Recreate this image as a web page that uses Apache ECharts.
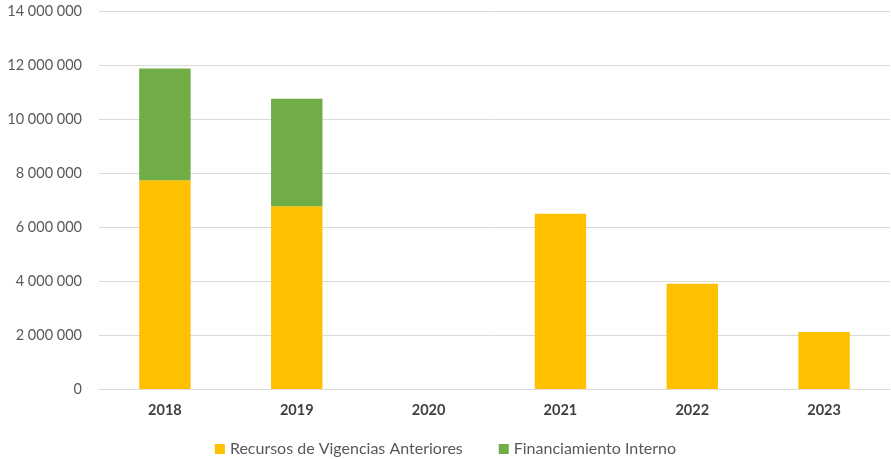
<!DOCTYPE html>
<html><head><meta charset="utf-8">
<script src="https://cdn.jsdelivr.net/npm/echarts@6/dist/echarts.min.js"></script>
<style>html,body{margin:0;padding:0;background:#fff}#c{width:891px;height:459px}</style>
</head><body><div id="c"></div>
<script>
const categories = ['2018','2019','2020','2021','2022','2023'];
const recursos = [7730000, 6770000, 0, 6490000, 3900000, 2110000];
const financiamiento = [4140000, 3980000, 0, 0, 0, 0];
const seriesNames = ['Recursos de Vigencias Anteriores','Financiamiento Interno'];
const fmt = v => String(Math.round(v)).replace(/\B(?=(\d{3})+(?!\d))/g, ' ');
const chart = echarts.init(document.getElementById('c'));
const font = 'Lato, "Open Sans", sans-serif';
chart.setOption({
  animation:false,
  textStyle:{fontFamily:font},
  grid:{left:99,right:1,top:11,bottom:70},
  legend:{top:436,left:'center',itemWidth:10,itemHeight:10,itemGap:36,icon:'rect',
    textStyle:{fontFamily:font,fontSize:16,color:'#595959'},data:seriesNames},
  xAxis:{type:'category',data:categories,axisTick:{show:false},
    axisLine:{lineStyle:{color:'#d9d9d9'}},
    axisLabel:{fontFamily:font,fontSize:14.5,fontWeight:'bold',color:'#404040',margin:14}},
  yAxis:{type:'value',min:0,max:14000000,interval:2000000,
    axisLabel:{formatter:fmt,fontFamily:font,fontSize:14.5,color:'#595959',margin:17},
    splitLine:{lineStyle:{color:'#d9d9d9'}}},
  series:[
    {name:seriesNames[0],type:'bar',stack:'a',data:recursos,barWidth:'39%',
     itemStyle:{color:'#ffc000'}},
    {name:seriesNames[1],type:'bar',stack:'a',data:financiamiento,barWidth:'39%',
     itemStyle:{color:'#70ad47'}}
  ]
});
</script></body></html>
